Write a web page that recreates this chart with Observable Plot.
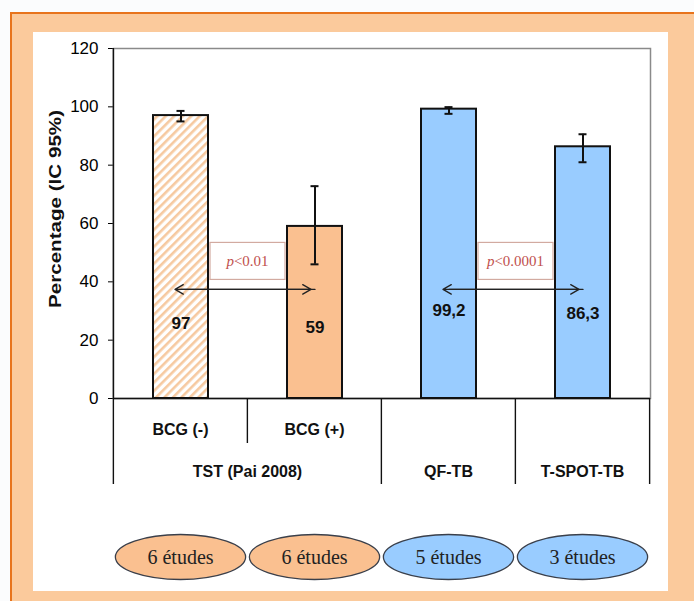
<!DOCTYPE html>
<html><head><meta charset="utf-8">
<script src="https://cdn.jsdelivr.net/npm/d3@7"></script>
<script src="https://cdn.jsdelivr.net/npm/@observablehq/plot@0.6"></script>
<style>
html,body{margin:0;padding:0;background:#fbfcfd;width:694px;height:601px;overflow:hidden;}
#outer{position:absolute;left:10px;top:12px;width:700px;height:600px;background:#fbca9c;border-top:2.5px solid #e8741c;border-left:2.5px solid #e8741c;}
#inner{position:absolute;left:33px;top:32px;width:635px;height:559px;background:#fff;}
#chart{position:absolute;left:0;top:0;}
</style></head><body>
<div id="outer"></div><div id="inner"></div><div id="chart"></div>
<script>
// ---- data ----
const categories = ["BCG (-)", "BCG (+)", "QF-TB", "T-SPOT-TB"];
const subLabels  = ["BCG (-)", "BCG (+)", "", ""];
const groups     = ["TST (Pai 2008)", "TST (Pai 2008)", "QF-TB", "T-SPOT-TB"];
const values     = [97, 59, 99.2, 86.3];
const ciLow      = [95, 46, 97.6, 81];
const ciHigh     = [98.6, 72.8, 99.9, 90.6];
const labelAt    = [25.7, 24.3, 30.2, 29.1];
const studies    = [6, 6, 5, 3];
const compFrom   = ["BCG (-)", "QF-TB"];
const compTo     = ["BCG (+)", "T-SPOT-TB"];
const compP      = ["<0.01", "<0.0001"];
const compArrowAt = [37.4, 37.4];
const compBoxAt  = [47, 47];
const yTicks     = [0, 20, 40, 60, 80, 100, 120];
const yLabel     = "Percentage (IC 95%)";

// ---- styles ----
const ORANGE = "#fac090", BLUE = "#99ccff";
const barFill = {"BCG (-)": "url(#hatch)", "BCG (+)": ORANGE, "QF-TB": BLUE, "T-SPOT-TB": BLUE};
const groupFill = {"TST (Pai 2008)": ORANGE, "QF-TB": BLUE, "T-SPOT-TB": BLUE};
const SERIF = "'Liberation Serif', 'Times New Roman', serif";

const rows = categories.map((c, i) => ({cat: c, sub: subLabels[i], group: groups[i], value: values[i],
  lo: ciLow[i], hi: ciHigh[i], lab: labelAt[i], n: studies[i]}));
const comps = compFrom.map((a, i) => ({a, b: compTo[i], p: compP[i], y: compArrowAt[i], box: compBoxAt[i]}));
const fmt = v => String(v).replace(".", ",");

function center(x, c) {
  const bw = typeof x.bandwidth === "function" ? x.bandwidth() : 0;
  return x(c) + bw / 2;
}

// grouped category axis + study ellipses
function groupedAxis(index, scales, values, dim) {
  const x = scales.x;
  const x0 = dim.marginLeft, x1 = dim.width - dim.marginRight;
  const step = (x1 - x0) / categories.length;
  const top = dim.marginTop, bottom = dim.height - dim.marginBottom;
  const g = d3.create("svg:g");
  const cs = categories.map(c => center(x, c));
  for (let i = 0; i <= categories.length; i++) {
    const bx = i < categories.length ? cs[i] - step / 2 : cs[i - 1] + step / 2;
    const sameGroup = i > 0 && i < categories.length && groups[i] === groups[i - 1];
    g.append("line").attr("x1", bx).attr("x2", bx)
      .attr("y1", i === 0 ? top : bottom).attr("y2", bottom + (sameGroup ? 45 : 86))
      .attr("stroke", "#111").attr("stroke-width", 1.4);
  }
  rows.forEach((d, i) => {
    if (!d.sub) return;
    g.append("text").attr("x", cs[i]).attr("y", bottom + 31).attr("dy", "0.35em")
      .attr("text-anchor", "middle").attr("font-weight", "bold").attr("font-size", 16).attr("fill", "#111").text(d.sub);
  });
  const uniq = [...new Set(groups)];
  uniq.forEach(gname => {
    const xs = cs.filter((_, i) => groups[i] === gname);
    g.append("text").attr("x", d3.mean(xs)).attr("y", bottom + 73).attr("dy", "0.35em")
      .attr("text-anchor", "middle").attr("font-weight", "bold").attr("font-size", 16).attr("fill", "#111").text(gname);
  });
  rows.forEach((d, i) => {
    g.append("ellipse").attr("cx", cs[i]).attr("cy", bottom + 159).attr("rx", step / 2 - 2).attr("ry", 22.5)
      .attr("fill", groupFill[d.group]).attr("stroke", "#3a3f4a").attr("stroke-width", 1.3);
    g.append("text").attr("x", cs[i]).attr("y", bottom + 159).attr("dy", "0.35em")
      .attr("text-anchor", "middle").attr("font-family", SERIF)
      .attr("font-size", 20).attr("fill", "#222").text(`${d.n} études`);
  });
  // y axis title
  g.append("text").attr("transform", `translate(${x0 - 58},${(top + bottom) / 2 - 14}) rotate(-90)`)
    .attr("dy", "0.35em").attr("text-anchor", "middle").attr("font-weight", "bold").attr("font-size", 17)
    .attr("textLength", 198).attr("lengthAdjust", "spacingAndGlyphs").attr("fill", "#111").text(yLabel);
  return g.node();
}

// p-value boxes
function pBoxes(index, scales, values, dim) {
  const x = scales.x, y = scales.y;
  const g = d3.create("svg:g");
  comps.forEach(c => {
    const mx = (center(x, c.a) + center(x, c.b)) / 2, my = y(c.box);
    g.append("rect").attr("x", mx - 37.5).attr("y", my - 18.5).attr("width", 75).attr("height", 37)
      .attr("fill", "#fff").attr("stroke", "#d2aaa0").attr("stroke-width", 1.2);
    const t = g.append("text").attr("x", mx).attr("y", my).attr("dy", "0.35em").attr("text-anchor", "middle")
      .attr("font-family", SERIF).attr("font-size", 15).attr("fill", "#c0504d");
    t.append("tspan").attr("font-style", "italic").text("p");
    t.append("tspan").text(c.p);
  });
  return g.node();
}

const plot = Plot.plot({
  width: 694, height: 601,
  marginLeft: 113, marginRight: 44, marginTop: 48, marginBottom: 203,
  style: {background: "transparent", color: "#000", fontFamily: "'Liberation Sans', Arial, sans-serif", fontSize: "17px", overflow: "visible"},
  x: {domain: categories, paddingInner: 0.59, paddingOuter: 0.295, axis: null},
  y: {domain: [0, 120], ticks: yTicks, tickSize: 5, tickPadding: 10, tickFormat: d => String(d), label: null},
  marks: [
    Plot.frame({stroke: "#8a8a8a", strokeWidth: 1.5}),
    ...categories.map(c => Plot.barY(rows.filter(d => d.cat === c), {x: "cat", y: "value", fill: barFill[c], stroke: "#111", strokeWidth: 2})),
    Plot.ruleX(rows, {x: "cat", y1: "lo", y2: "hi", stroke: "#111", strokeWidth: 2}),
    Plot.tickY(rows, {x: "cat", y: "lo", stroke: "#111", strokeWidth: 2, insetLeft: 23.5, insetRight: 23.5}),
    Plot.tickY(rows, {x: "cat", y: "hi", stroke: "#111", strokeWidth: 2, insetLeft: 23.5, insetRight: 23.5}),
    Plot.ruleY([0], {stroke: "#111", strokeWidth: 1.5}),
    groupedAxis,
    pBoxes,
    Plot.arrow(comps, {x1: "a", x2: "b", y1: "y", y2: "y", stroke: "#222", strokeWidth: 1.3, headLength: 11, headAngle: 60, insetEnd: 4, insetStart: 0}),
    Plot.arrow(comps, {x1: "b", x2: "a", y1: "y", y2: "y", stroke: "#222", strokeWidth: 1.3, headLength: 11, headAngle: 60, insetEnd: -6, insetStart: 0}),
    Plot.text(rows, {x: "cat", y: "lab", text: d => fmt(d.value), fontWeight: "bold", fontSize: 17, fill: "#111"})
  ]
});

// hatch pattern for BCG (-)
const defs = d3.select(plot).insert("defs", ":first-child");
const pat = defs.append("pattern").attr("id", "hatch").attr("patternUnits", "userSpaceOnUse")
  .attr("width", 6).attr("height", 6).attr("patternTransform", "rotate(45)");
pat.append("rect").attr("width", 6).attr("height", 6).attr("fill", "#fff");
pat.append("rect").attr("width", 2.6).attr("height", 6).attr("fill", "#f6c9a0");

document.getElementById("chart").appendChild(plot);
</script>
</body></html>
